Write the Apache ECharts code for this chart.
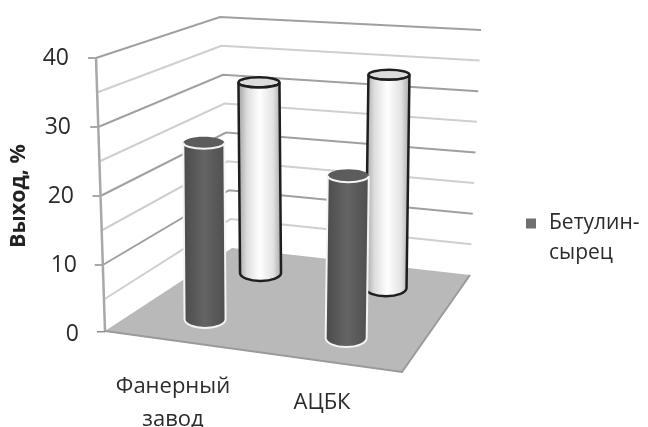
<!DOCTYPE html>
<html><head><meta charset="utf-8">
<style>html,body{margin:0;padding:0;background:#fff}#c{width:648px;height:427px}</style>
<script src="https://cdn.jsdelivr.net/npm/echarts@6/dist/echarts.min.js"></script>
</head><body><div id="c"></div>
<script>
const categories = ['Фанерный\nзавод', 'АЦБК'];
const frontValues = [26.2, 23];
const backValues = [31.2, 33.7];
const gridLevels = [0, 5, 10, 15, 20, 25, 30, 35, 40];
const seriesName = 'Бетулин-сырец';
const yTicks = [0, 10, 20, 30, 40];
const labelInset = {0: 0, 10: 2, 20: 5, 30: 8, 40: 10};

// oblique floor of the pseudo-3D box
const FL = [105, 331], BL = [232, 248], BR = [470, 275], FR = [402, 372];
const SCALE_K = {FL: 0.993, BL: 0.837, BR: 0.888, FR: 1.10};
const floorAt = (u, d) => [0, 1].map(i =>
  (1 - u) * ((1 - d) * FL[i] + d * BL[i]) + u * ((1 - d) * FR[i] + d * BR[i]));
const scaleAt = (u, d) =>
  (1 - u) * ((1 - d) * SCALE_K.FL + d * SCALE_K.BL) + u * ((1 - d) * SCALE_K.FR + d * SCALE_K.BR);

function wallSeries() {
  return {
    type: 'custom', name: 'walls', silent: true, z: 1, animation: false,
    data: gridLevels.map(v => [0, v]),
    renderItem(p, api) {
      const v = api.value(1);
      const y0 = api.coord([0, 0])[1], y = api.coord([0, v])[1];
      const h = y0 - y;
      const L = [105 - 9 * v / 40, Math.min(y, FL[1] + 0.7)];
      const C = [232 - 12 * v / 40, BL[1] - h * SCALE_K.BL];
      const R = [470 + 11 * v / 40, BR[1] - h * SCALE_K.BR];
      const major = v % 10 === 0;
      const kids = [];
      if (v > 0) kids.push({type: 'polyline', shape: {points: [L, C, R]},
        style: {stroke: major ? '#a0a0a0' : '#cfcfcf', lineWidth: 2, fill: null}});
      if (major) kids.push({type: 'line', shape: {x1: L[0] - 8, y1: L[1], x2: L[0], y2: L[1]},
        style: {stroke: '#8c8c8c', lineWidth: 1.5}});
      if (v === 40) kids.push({type: 'line', shape: {x1: L[0], y1: L[1], x2: FL[0], y2: FL[1]},
        style: {stroke: '#a8a8a8', lineWidth: 2.5}});
      return {type: 'group', children: kids};
    }
  };
}
function floorSeries() {
  return {
    type: 'custom', name: 'floor', silent: true, z: 2, animation: false,
    data: [[0, 0]],
    renderItem() {
      return {type: 'group', children: [
        {type: 'polygon', shape: {points: [FL, BL, BR, FR]}, style: {fill: '#b9b9b9'}},
        {type: 'polyline', shape: {points: [FL, FR, BR]}, style: {stroke: '#9a9a9a', lineWidth: 2, fill: null}}
      ]};
    }
  };
}
function cylinderSeries(name, values, depth, uShift, look, z) {
  return {
    type: 'custom', name, z, animation: false, silent: true,
    itemStyle: {color: look.legend},
    data: values.map((v, i) => [i, v]),
    renderItem(p, api) {
      const i = api.value(0), v = api.value(1);
      const top = api.coord([i, v]), zero = api.coord([i, 0]);
      const u = (top[0] - p.coordSys.x) / p.coordSys.width + uShift;
      const base = floorAt(u, depth);
      const h = (zero[1] - top[1]) * scaleAt(u, depth);
      const lean = (-4.5 + 11 * u) * v / 40;
      const r = 20.5;
      const tx = base[0] + lean, ty = base[1] - h;
      const ryT = 4 + ty * 0.014, ryB = 3.5 + base[1] * 0.016;
      const d = `M ${tx - r} ${ty} L ${base[0] - r} ${base[1]} ` +
        `A ${r} ${ryB} 0 0 0 ${base[0] + r} ${base[1]} L ${tx + r} ${ty} ` +
        `A ${r} ${ryT} 0 0 1 ${tx - r} ${ty} Z`;
      return {type: 'group', children: [
        {type: 'ellipse', shape: {cx: tx, cy: ty, rx: r, ry: ryT},
          style: {fill: look.cap, stroke: look.capStroke, lineWidth: look.width}},
        {type: 'path', shape: {pathData: d}, style: {
          fill: {type: 'linear', x: 0, y: 0, x2: 1, y2: 0, global: false, colorStops: look.stops},
          stroke: look.stroke, lineWidth: look.width}}
      ]};
    }
  };
}
const darkLook = {legend: '#6f6f6f', stroke: '#f4f4f4', capStroke: null, width: 2, cap: '#5c5c5c',
  stops: [{offset: 0, color: '#4a4a4a'}, {offset: 0.5, color: '#646464'}, {offset: 1, color: '#4e4e4e'}]};
const whiteLook = {legend: '#eeeeee', stroke: '#1e1e1e', capStroke: '#1e1e1e', width: 2.5, cap: '#dcdcdc',
  stops: [{offset: 0, color: '#9a9a9a'}, {offset: 0.22, color: '#dedede'}, {offset: 0.5, color: '#ffffff'},
          {offset: 0.8, color: '#e2e2e2'}, {offset: 1, color: '#a0a0a0'}]};

const rich = {};
yTicks.forEach(t => rich['p' + t] = {padding: [0, labelInset[t], 0, 0], fontSize: 23, color: '#2b2b2b', fontFamily: 'Open Sans'});

const chart = echarts.init(document.getElementById('c'), null, {renderer: 'canvas'});
chart.setOption({
  animation: false,
  backgroundColor: '#fff',
  textStyle: {fontFamily: 'Open Sans'},
  grid: {left: 98.5, width: 298, top: 58, height: 276, outerBoundsMode: 'none', containLabel: false},
  xAxis: {
    type: 'category', data: categories,
    axisLine: {show: false}, axisTick: {show: false}, splitLine: {show: false},
    axisLabel: {margin: 69, verticalAlign: 'middle', lineHeight: 33, fontSize: 22, color: '#2b2b2b', interval: 0,
      fontFamily: 'Open Sans'}
  },
  yAxis: {
    type: 'value', min: 0, max: 40, interval: 10,
    name: 'Выход, %', nameLocation: 'middle', nameRotate: 90, nameGap: 69, nameMoveOverlap: false,
    nameTextStyle: {fontSize: 21.5, fontWeight: 'bold', color: '#222', fontFamily: 'Open Sans'},
    axisLine: {show: false}, axisTick: {show: false}, splitLine: {show: false},
    axisLabel: {margin: 19.5, fontSize: 23, color: '#2b2b2b', fontFamily: 'Open Sans',
      formatter: v => `{p${v}|${v}}`, rich}
  },
  legend: {
    left: 526, top: 178.5, padding: 0, itemWidth: 10, itemHeight: 10, selectedMode: false,
    data: [{name: seriesName, icon: 'rect'}],
    formatter: () => '\n{a|Бетулин-}\n{a|сырец}',
    textStyle: {fontSize: 21, lineHeight: 30, color: '#2b2b2b', fontFamily: 'Open Sans',
      rich: {a: {padding: [0, 0, 0, 8], fontSize: 21, lineHeight: 30, color: '#2b2b2b', fontFamily: 'Open Sans'}}}
  },
  series: [
    wallSeries(),
    floorSeries(),
    cylinderSeries('Ряд 2', backValues, 0.78, -0.025, whiteLook, 3),
    cylinderSeries(seriesName, frontValues, 0.25, -0.008, darkLook, 4)
  ]
});
</script></body></html>
